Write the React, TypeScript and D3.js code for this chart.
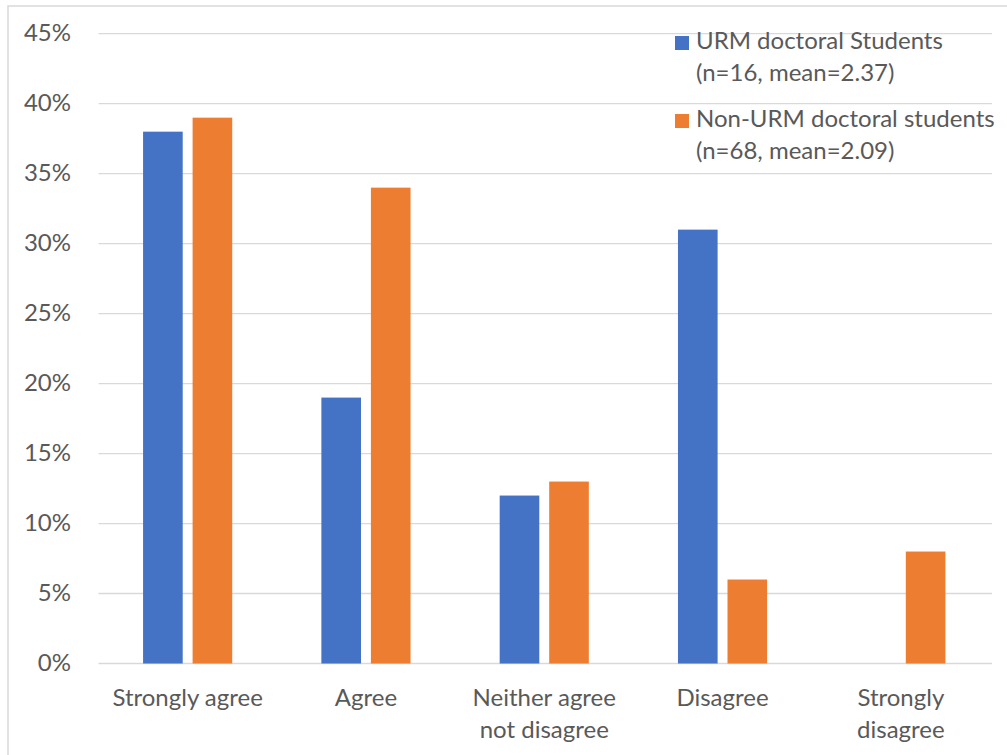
import * as d3 from 'd3';

const categories = ['Strongly agree', 'Agree', 'Neither agree\nnot disagree', 'Disagree', 'Strongly\ndisagree'];
const seriesNames = ['URM doctoral Students\n(n=16, mean=2.37)', 'Non-URM doctoral students\n(n=68, mean=2.09)'];
const urmValues = [38, 19, 12, 31, 0];
const nonUrmValues = [39, 34, 13, 6, 8];
const yTicks = [0, 5, 10, 15, 20, 25, 30, 35, 40, 45];
const colors = ['#4472C4', '#ED7D31'];

export default function App() {
  const width = 1007;
  const height = 755;
  const margin = { top: 33.7, left: 98.5, right: 17, bottom: 91.5 };
  const plotW = width - margin.left - margin.right;
  const y0 = height - margin.bottom;
  const font = 'Lato, "Open Sans", sans-serif';
  const textColor = '#595959';
  const fs = 24;

  const x0 = d3.scaleBand().domain(categories).range([margin.left, margin.left + plotW]).paddingInner(0.5).paddingOuter(0.25);
  const x1 = d3.scaleBand().domain(['0', '1']).range([0, x0.bandwidth()]).paddingInner(0.2);
  const y = d3.scaleLinear().domain([0, 45]).range([y0, margin.top]);

  const series = [urmValues, nonUrmValues];

  return (
    <svg width={width} height={height} style={{ position: 'absolute', left: 0, top: 0 }}>
      <rect x={8} y={6} width={1010} height={760} fill="white" stroke="#d9d9d9" strokeWidth={1.5} />
      {/* gridlines */}
      {yTicks.map((t) => (
        <line key={t} x1={margin.left} x2={margin.left + plotW + 2} y1={y(t)} y2={y(t)} stroke="#d9d9d9" strokeWidth={1.3} />
      ))}
      {yTicks.map((t) => (
        <text key={'l' + t} x={71} y={y(t) + 7.5} textAnchor="end" fontSize={fs} fontFamily={font} fill={textColor}>
          {t}%
        </text>
      ))}
      {/* bars */}
      {categories.map((c, i) => (
        <g key={c}>
          {series.map((vals, s) => {
            const v = vals[i];
            if (!v) return null;
            return (
              <rect
                key={s}
                x={x0(c)! + x1(String(s))!}
                y={y(v)}
                width={x1.bandwidth()}
                height={y0 - y(v)}
                fill={colors[s]}
              />
            );
          })}
        </g>
      ))}
      {/* category labels */}
      {categories.map((c) => (
        <text key={'c' + c} textAnchor="middle" fontSize={fs} fontFamily={font} fill={textColor}>
          {c.split('\n').map((line, k) => (
            <tspan key={k} x={x0(c)! + x0.bandwidth() / 2} y={706 + k * 32}>
              {line}
            </tspan>
          ))}
        </text>
      ))}
      {/* legend */}
      {seriesNames.map((name, s) => (
        <g key={name} transform={`translate(675,${36 + s * 78})`}>
          <rect x={0} y={0} width={14} height={14} fill={colors[s]} />
          <text fontSize={fs} fontFamily={font} fill={textColor}>
            {name.split('\n').map((line, k) => (
              <tspan key={k} x={21} y={12.5 + k * 32}>
                {line}
              </tspan>
            ))}
          </text>
        </g>
      ))}
    </svg>
  );
}
